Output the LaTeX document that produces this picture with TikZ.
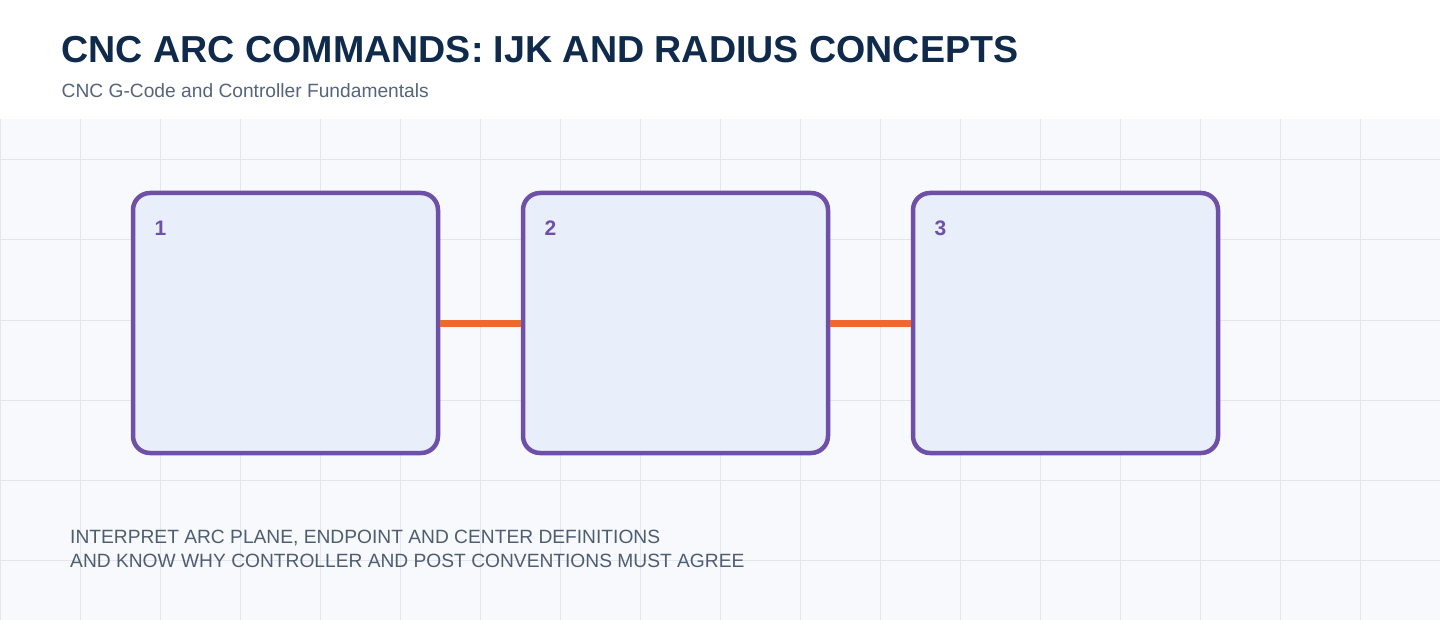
\documentclass[tikz,border=0pt]{standalone}
\usepackage{fontspec}
\setmainfont{Liberation Sans}
\definecolor{titlec}{HTML}{102A4C}
\definecolor{subc}{HTML}{56657A}
\definecolor{bodyc}{HTML}{4F5D70}
\definecolor{gridbg}{HTML}{F7F9FC}
\definecolor{gridln}{HTML}{E2E7EE}
\definecolor{boxfill}{HTML}{E8EFFA}
\definecolor{boxline}{HTML}{6E50A8}
\definecolor{linkc}{HTML}{EE6A2C}
\tikzset{
  stepbox/.style={draw=boxline, fill=boxfill, line width=4.5pt, rounded corners=17pt,
    minimum width=305pt, minimum height=260pt, inner sep=0pt},
  numlbl/.style={anchor=base west, inner sep=0pt, text=boxline,
    font=\fontsize{21}{25}\selectfont\bfseries},
  linkline/.style={draw=linkc, line width=7pt},
}
\begin{document}
\begin{tikzpicture}[x=1pt,y=-1pt]
\useasboundingbox (0,0) rectangle (1440,620);
\fill[white] (0,0) rectangle (1440,620);
\fill[gridbg] (0,119) rectangle (1440,620);
\foreach \gx in {0,80,...,1360} \draw[gridln, line width=1pt] (\gx,119) -- (\gx,620);
\foreach \gy in {160,240,...,560} \draw[gridln, line width=1pt] (0,\gy) -- (1440,\gy);
\node[anchor=base west, inner sep=0pt, text=titlec, font=\fontsize{37.6}{45}\selectfont\bfseries] (title) at (61.5,63) {CNC ARC COMMANDS: IJK AND RADIUS CONCEPTS};
\node[anchor=base west, inner sep=0pt, text=subc, font=\fontsize{19.2}{23}\selectfont] (sub) at (61.5,98) {CNC G-Code and Controller Fundamentals};
\node[stepbox] (b1) at (285.5,323) {};
\node[stepbox] (b2) at (675.5,323) {};
\node[stepbox] (b3) at (1065.5,323) {};
\node[numlbl] (n1) at (154.5,236) {1};
\node[numlbl] (n2) at (544.5,236) {2};
\node[numlbl] (n3) at (934.5,236) {3};
\draw[linkline] (b1.east) -- (b2.west);
\draw[linkline] (b2.east) -- (b3.west);
\node[anchor=base west, inner sep=0pt, text=bodyc, font=\fontsize{19.2}{24}\selectfont, align=left] (goal) at (70,567) {INTERPRET ARC PLANE, ENDPOINT AND CENTER DEFINITIONS\\AND KNOW WHY CONTROLLER AND POST CONVENTIONS MUST AGREE};
\end{tikzpicture}
\end{document}
